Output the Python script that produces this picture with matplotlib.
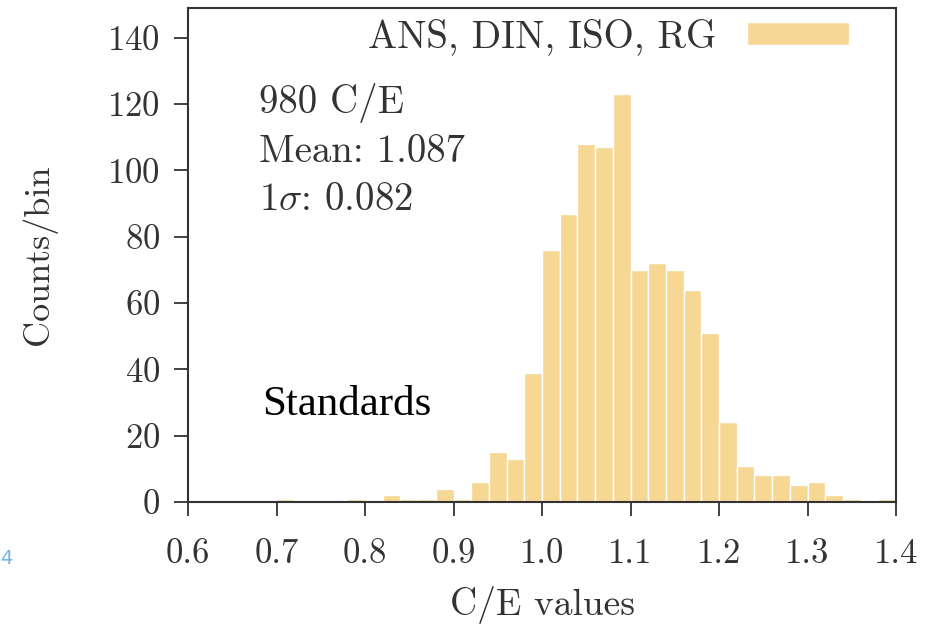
import numpy as np
import matplotlib
matplotlib.use('Agg')
import matplotlib.pyplot as plt
from matplotlib.ticker import FormatStrFormatter

plt.rcParams['font.family'] = ['cmr10', 'DejaVu Serif']
plt.rcParams['mathtext.fontset'] = 'cm'
plt.rcParams['axes.formatter.use_mathtext'] = True

# histogram of C/E values, bins of 0.02 from 0.60 to 1.40
bin_edges = np.round(np.arange(0.60, 1.4001, 0.02), 2)
counts = [0, 0, 0, 0, 0, 1, 0, 0, 0, 1, 0, 2, 1, 1, 4, 1, 6, 15, 13, 39,
          76, 87, 108, 107, 123, 70, 72, 70, 64, 51, 24, 11, 8, 8, 5, 6,
          2, 1, 0, 1]
x_ticks = [0.6, 0.7, 0.8, 0.9, 1.0, 1.1, 1.2, 1.3, 1.4]
y_ticks = [0, 20, 40, 60, 80, 100, 120, 140]

bar_color = '#F6D794'
dark = '#333333'

fig = plt.figure(figsize=(9.33, 6.28), dpi=100)
ax = fig.add_axes([188 / 933, 1 - 502 / 628, 708 / 933, 494 / 628])

ax.bar(bin_edges[:-1], counts, width=0.02, align='edge', color=bar_color,
       edgecolor='white', linewidth=1.0, label='ANS, DIN, ISO, RG')

ax.set_xlim(0.6, 1.4)
ax.set_ylim(0, 149)
ax.set_xticks(x_ticks)
ax.set_yticks(y_ticks)
ax.xaxis.set_major_formatter(FormatStrFormatter('%.1f'))
ax.tick_params(direction='out', length=10, width=1.3, colors=dark,
               labelsize=25, labelcolor=dark, pad=16)
ax.tick_params(axis='y', pad=10)
for s in ax.spines.values():
    s.set_color(dark)
    s.set_linewidth(1.5)

ax.set_xlabel('C/E values', fontsize=27, color=dark, labelpad=12)
ax.set_ylabel('Counts/bin', fontsize=26, color=dark, labelpad=36)

ax.text(0.1, 0.808, '980 C/E', transform=ax.transAxes, fontsize=28,
        color=dark, va='center')
ax.text(0.1, 0.708, 'Mean: 1.087', transform=ax.transAxes, fontsize=28,
        color=dark, va='center')
ax.text(0.1, 0.611, r'1$\sigma$: 0.082', transform=ax.transAxes, fontsize=28,
        color=dark, va='center')
ax.text(0.105, 0.196, 'Standards', transform=ax.transAxes, fontsize=31,
        family='Liberation Serif', color='black', va='center')

leg = ax.legend(loc='upper right', frameon=False, markerfirst=False,
                fontsize=28, handlelength=2.6, handleheight=0.55,
                handletextpad=0.8, borderaxespad=0.0,
                bbox_to_anchor=(0.955, 1.01))
for t in leg.get_texts():
    t.set_color(dark)

fig.text(0.0, 1 - 558 / 628, '4', color='#6BB8E0', fontsize=14,
         family='DejaVu Sans', va='center')

fig.savefig('out.png', dpi=100)
